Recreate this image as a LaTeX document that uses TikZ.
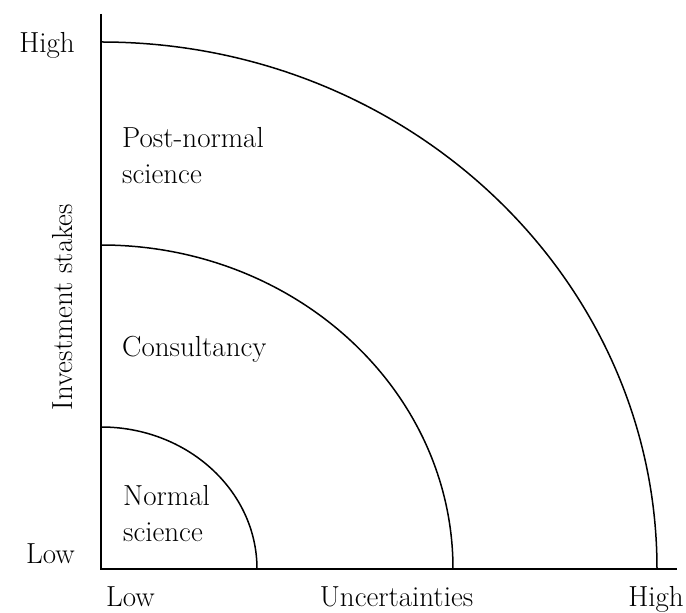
\documentclass[tikz,border=0pt]{standalone}
\begin{document}
\begin{tikzpicture}[x=1pt,y=1pt,
  lbl/.style={inner sep=0pt,font=\fontsize{29}{36}\selectfont},
  zone/.style={lbl,align=left,anchor=base west},
  axisline/.style={line width=1.6pt},
  arcline/.style={line width=1.5pt}]
\useasboundingbox (0,0) rectangle (686,613);
% axes
\coordinate (O) at (101,44);
\coordinate (ytop) at (101,599);
\coordinate (xend) at (677,44);
\draw[axisline] (ytop) -- (O) -- (xend);
% arcs
\coordinate (a1) at (257,44);
\coordinate (a2) at (453,44);
\coordinate (a3) at (657,44);
\draw[arcline] (a1) arc[start angle=0,end angle=90,x radius=156,y radius=142];
\draw[arcline] (a2) arc[start angle=0,end angle=90,x radius=352,y radius=324];
\draw[arcline] (a3) arc[start angle=0,end angle=90,x radius=556,y radius=527];
% zone labels
\node[zone] (pns) at (122,429) {Post-normal\\science};
\node[zone] (cons) at (122,256) {Consultancy};
\node[zone] (ns) at (123,71) {Normal\\science};
% axis labels
\node[lbl,anchor=base east] (yhigh) at (75,560) {High};
\node[lbl,anchor=base east] (ylow) at (75,49) {Low};
\node[lbl,anchor=base west] (xlow) at (106,6) {Low};
\node[lbl,anchor=base] (xlab) at (396.5,6) {Uncertainties};
\node[lbl,anchor=base east] (xhigh) at (684,6) {High};
\node[lbl,anchor=base,rotate=90] (ylab) at (72,306) {Investment stakes};
\end{tikzpicture}
\end{document}
